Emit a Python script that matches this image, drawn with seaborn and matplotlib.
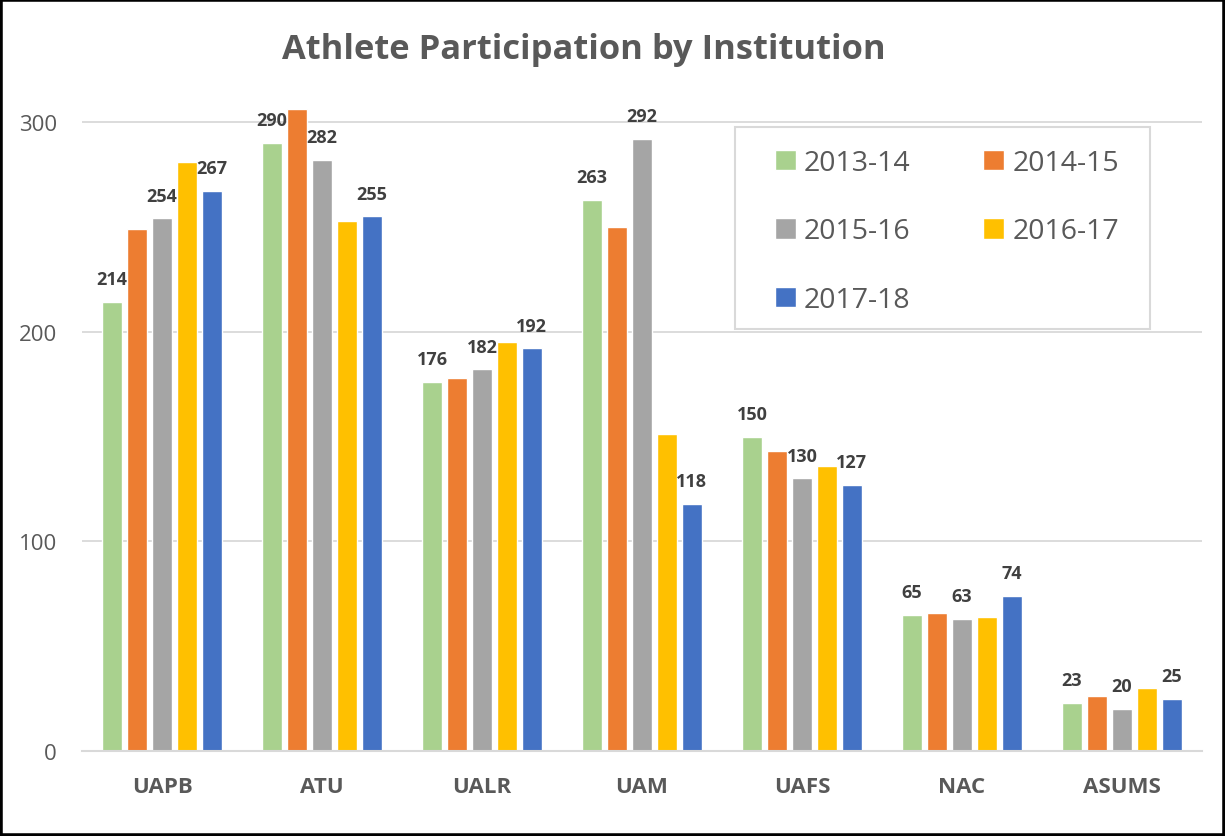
import pandas as pd
import seaborn as sns
from matplotlib import pyplot as plt
from matplotlib.patches import Rectangle

institutions = ["UAPB", "ATU", "UALR", "UAM", "UAFS", "NAC", "ASUMS"]
years = ["2013-14", "2014-15", "2015-16", "2016-17", "2017-18"]

y2013_14 = [214, 290, 176, 263, 150, 65, 23]
y2014_15 = [249, 306, 178, 250, 143, 66, 26]
y2015_16 = [254, 282, 182, 292, 130, 63, 20]
y2016_17 = [281, 253, 195, 151, 136, 64, 30]
y2017_18 = [267, 255, 192, 118, 127, 74, 25]

colors = ["#A9D18E", "#ED7D31", "#A5A5A5", "#FFC000", "#4472C4"]
labeled_years = ["2013-14", "2015-16", "2017-18"]

series = [y2013_14, y2014_15, y2015_16, y2016_17, y2017_18]
rows = []
for year, vals in zip(years, series):
    for inst, v in zip(institutions, vals):
        rows.append({"Institution": inst, "Year": year, "Athletes": v})
df = pd.DataFrame(rows)

sns.set_theme(style="white")
plt.rcParams["font.family"] = ["Open Sans", "DejaVu Sans"]

W, H = 1225, 837
fig = plt.figure(figsize=(W / 100, H / 100), dpi=100)
ax = fig.add_axes([82 / W, 1 - 752 / H, 1120 / W, (752 - 100) / H])

sns.barplot(data=df, x="Institution", y="Athletes", hue="Year",
            order=institutions, hue_order=years, palette=colors,
            width=0.78, gap=0.18, saturation=1, ax=ax)

for year, cont in zip(years, ax.containers):
    if year in labeled_years:
        ax.bar_label(cont, padding=10, fontsize=13, fontweight="bold",
                     color="#404040")

ax.set_ylim(0, 311)
ax.set_xlim(-0.5, 6.5)
ax.set_yticks([0, 100, 200, 300])
ax.yaxis.grid(True, color="#D9D9D9", linewidth=1.3)
ax.set_axisbelow(True)
for s in ["top", "right", "left"]:
    ax.spines[s].set_visible(False)
ax.spines["bottom"].set_color("#D9D9D9")
ax.spines["bottom"].set_linewidth(1.5)
ax.set_xlabel("")
ax.set_ylabel("")
ax.tick_params(axis="y", labelsize=16, colors="#595959", pad=18, length=0)
ax.tick_params(axis="x", labelsize=16, colors="#595959", pad=18, length=0)
for t in ax.get_xticklabels():
    t.set_fontweight("bold")

# legend filled row by row, like the original; frame drawn separately
handles, labels = ax.get_legend_handles_labels()
order = [0, 2, 4, 1, 3]
leg = ax.legend([handles[i] for i in order], [labels[i] for i in order],
                loc="upper left", bbox_to_anchor=(775 / W, 1 - 150 / H),
                bbox_transform=fig.transFigure, ncol=2, fontsize=20.5,
                frameon=False, handlelength=0.72, handleheight=0.72,
                handletextpad=0.3, labelspacing=1.42, columnspacing=2.55,
                borderpad=0, borderaxespad=0)
leg.set_zorder(6)
for t in leg.get_texts():
    t.set_color("#595959")
ax.add_patch(Rectangle((735 / W, 1 - 330 / H), 415 / W, 202 / H,
                       transform=fig.transFigure, facecolor="white",
                       edgecolor="#D9D9D9", linewidth=1.5, zorder=4,
                       clip_on=False))

fig.text(584 / W, 1 - 50 / H, "Athlete Participation by Institution",
         ha="center", va="center", fontsize=24.8, fontweight="bold",
         color="#595959")

fig.patches.append(Rectangle((0, 0), 1, 1, transform=fig.transFigure,
                             fill=False, edgecolor="black", linewidth=4))

fig.savefig("out.png", dpi=100)
